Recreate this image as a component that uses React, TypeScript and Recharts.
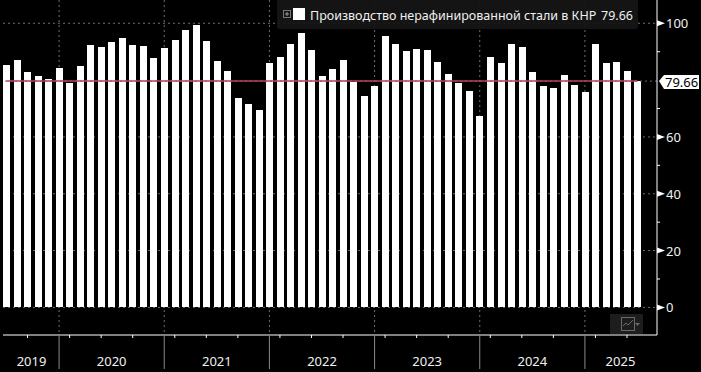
import {
  BarChart,
  Bar,
  CartesianGrid,
  ReferenceLine,
  XAxis,
  YAxis,
} from 'recharts';

// Monthly output (no Jan/Feb prints, so 10 bars a year)
const steelOutput = [
  85.4, 87.1, 82.9, 81.5, 80.4, 84.3, 79.0, 85.0, 92.4, 91.7,
  93.4, 94.9, 92.4, 92.0, 87.8, 91.3, 94.1, 97.7, 99.4, 93.8,
  86.8, 83.2, 73.7, 71.6, 69.5, 86.0, 88.2, 92.7, 96.6, 90.6,
  81.5, 83.9, 87.1, 79.5, 74.4, 77.9, 95.6, 92.7, 90.3, 91.0,
  90.6, 86.4, 82.2, 79.0, 76.2, 67.4, 88.2, 86.0, 92.7, 91.7,
  82.9, 77.9, 77.2, 81.8, 78.3, 75.7, 92.7, 86.0, 86.4, 83.2,
  79.66,
];

const lastValue = 79.66;
const seriesName = 'Производство нерафинированной стали в КНР';

const years = ['2019', '2020', '2021', '2022', '2023', '2024', '2025'];
const yearLabelTicks = [2, 10, 20, 30, 40, 50, 58];
const yearSeparators = [5, 15, 25, 35, 45, 55];
const minorTicks = [2, 6, 9, 12, 16, 19, 22, 26, 29, 32, 36, 39, 42, 46, 49, 52, 56, 59];

const majorValues = [0, 20, 40, 60, 100];
const minorValues = [10, 30, 50, 70, 90];
const gridValues = [0, 20, 40, 60, 100];

const chartData = steelOutput.map((value, index) => ({ index, value }));
const xTicks = Array.from(new Set([...minorTicks, ...yearSeparators, ...yearLabelTicks])).sort((a, b) => a - b);
const yTicks = [...majorValues, ...minorValues, lastValue].sort((a, b) => a - b);

const FONT = '"Noto Sans", sans-serif';

const YearTick = ({ x, y, payload }: any) => {
  const idx = payload.value;
  const labelAt = yearLabelTicks.indexOf(idx);
  const edge = idx === 2 || idx === 58;
  return (
    <g>
      {yearSeparators.includes(idx) && <line x1={x} x2={x} y1={y} y2={y + 34} stroke="#8a8a8a" />}
      {minorTicks.includes(idx) && <line x1={x} x2={x} y1={y} y2={y + 3} stroke="#fff" />}
      {labelAt >= 0 && (
        <text x={x + (edge ? 4 : 0)} y={y + 31} textAnchor="middle" fill="#f0f0f0" fontSize={13} fontFamily={FONT}>
          {years[labelAt]}
        </text>
      )}
    </g>
  );
};

const ValueTick = ({ x, y, payload }: any) => {
  const v = payload.value;
  if (v === lastValue) {
    return (
      <g>
        <path d={`M${x + 2} ${y} L${x + 7} ${y - 6} H${x + 42} V${y + 8} H${x + 7} Z`} fill="#fff" />
        <text x={x + 8} y={y + 6} fill="#000" fontSize={13} fontFamily={FONT}>
          {lastValue}
        </text>
      </g>
    );
  }
  if (minorValues.includes(v)) {
    return <line x1={x} x2={x + 3} y1={y} y2={y} stroke="#fff" />;
  }
  return (
    <g>
      <path d={`M${x} ${y - 3} L${x + 8} ${y} L${x} ${y + 3} Z`} fill="#fff" />
      <text x={x + 9} y={y + 5} fill="#f0f0f0" fontSize={13} fontFamily={FONT}>
        {v}
      </text>
    </g>
  );
};

export default function App() {
  return (
    <div style={{ position: 'relative', width: 701, height: 372, background: '#000', overflow: 'hidden' }}>
      <style>{'body { margin: 0; background: #000; }'}</style>
      <BarChart
        width={701}
        height={372}
        data={chartData}
        margin={{ top: 0, right: 0, bottom: 0, left: 3 }}
      >
        <CartesianGrid
          stroke="#6e6e6e"
          strokeDasharray="2 3"
          horizontalValues={gridValues}
          verticalValues={yearSeparators}
        />
        <XAxis
          dataKey="index"
          type="category"
          ticks={xTicks}
          interval={0}
          height={37}
          padding={{ left: -1.76, right: 14.24 }}
          stroke="#fff"
          tickLine={false}
          tickSize={0}
          tickMargin={0}
          tick={<YearTick />}
        />
        <YAxis
          orientation="right"
          width={44}
          domain={[-9.72, 108.2]}
          ticks={yTicks}
          interval={0}
          stroke="#fff"
          tickLine={false}
          tickSize={0}
          tickMargin={0}
          tick={<ValueTick />}
        />
        <Bar dataKey="value" fill="#fff" barSize={7} isAnimationActive={false} shapeRendering="crispEdges" />
        <ReferenceLine y={lastValue} stroke="#6e6e6e" strokeDasharray="2 3" />
        <ReferenceLine
          segment={[{ x: 0, y: lastValue }, { x: 60, y: lastValue }]}
          stroke="#b8405e"
          strokeWidth={1.5}
        />
      </BarChart>

      {/* Legend strip */}
      <div
        style={{
          position: 'absolute', left: 277, top: 0, width: 361, height: 29,
          background: 'rgba(22,22,22,0.92)', borderBottomLeftRadius: 3, borderBottomRightRadius: 3,
        }}
      >
        <svg width={361} height={29} style={{ position: 'absolute', left: 0, top: 0 }}>
          <rect x={6.5} y={10.5} width={7} height={7} fill="none" stroke="#777" />
          <path d="M8 14 H12 M10 12 V16" stroke="#999" />
          <rect x={16} y={8} width={12} height={12} fill="#fff" />
          <text x={33} y={20} fill="#f0f0f0" fontSize={12.5} fontFamily={FONT}>
            {seriesName}
          </text>
          <text x={324} y={20} fill="#f0f0f0" fontSize={12.5} fontFamily={FONT}>
            {lastValue}
          </text>
        </svg>
      </div>

      {/* Chart-type button, bottom right */}
      <svg width={33} height={20} style={{ position: 'absolute', left: 610, top: 314 }}>
        <rect width={33} height={20} fill="#1d1d1d" />
        <rect x={11.5} y={3.5} width={13} height={13} fill="none" stroke="#6a6a6a" />
        <path d="M13 12 L16 9 L18 11 L23 6" fill="none" stroke="#6a6a6a" />
        <path d="M25 9 H30 L27.5 12 Z" fill="#6a6a6a" />
      </svg>
    </div>
  );
}
